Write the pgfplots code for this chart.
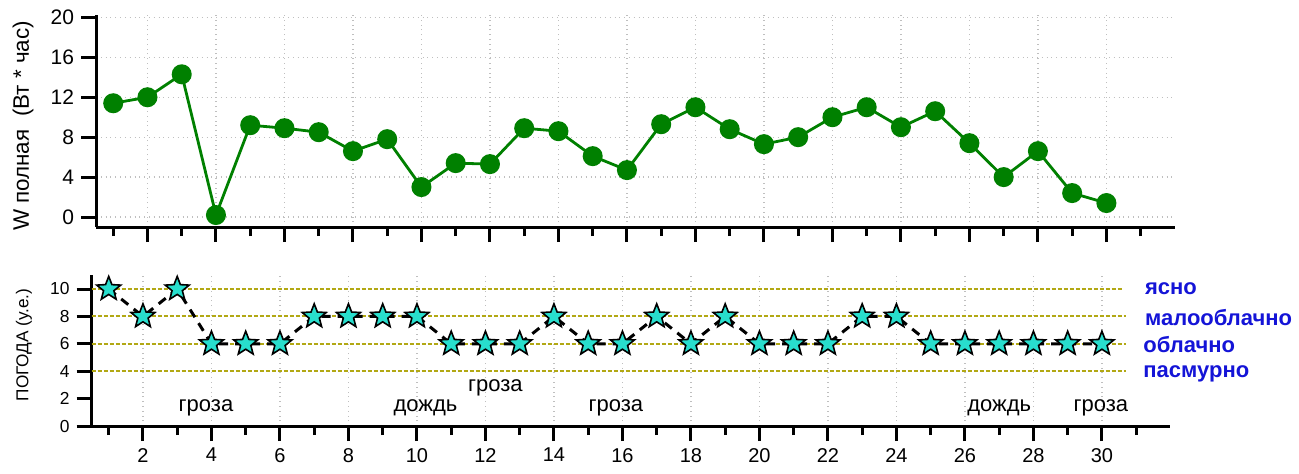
\documentclass[border=0pt]{standalone}
\usepackage{fontspec}
\setmainfont{Liberation Sans}
\usepackage{pgfplots}
\usepackage{pgfplotstable}
\pgfplotsset{compat=1.18}
\usetikzlibrary{plotmarks}

\definecolor{wgreen}{RGB}{0,128,0}
\definecolor{starfill}{RGB}{40,222,205}
\definecolor{olivegrid}{RGB}{178,168,20}
\definecolor{wxblue}{RGB}{20,20,215}

% filled five-pointed star marker
\pgfdeclareplotmark{fivestar}{%
  \pgfpathmoveto{\pgfpointpolar{90}{\pgfplotmarksize}}%
  \pgfpathlineto{\pgfpointpolar{126}{0.43\pgfplotmarksize}}%
  \pgfpathlineto{\pgfpointpolar{162}{\pgfplotmarksize}}%
  \pgfpathlineto{\pgfpointpolar{198}{0.43\pgfplotmarksize}}%
  \pgfpathlineto{\pgfpointpolar{234}{\pgfplotmarksize}}%
  \pgfpathlineto{\pgfpointpolar{270}{0.43\pgfplotmarksize}}%
  \pgfpathlineto{\pgfpointpolar{306}{\pgfplotmarksize}}%
  \pgfpathlineto{\pgfpointpolar{342}{0.43\pgfplotmarksize}}%
  \pgfpathlineto{\pgfpointpolar{18}{\pgfplotmarksize}}%
  \pgfpathlineto{\pgfpointpolar{54}{0.43\pgfplotmarksize}}%
  \pgfpathclose
  \pgfusepathqfillstroke
}

% daily total energy, W*h
\pgfplotstableread{
day W
1 11.4
2 12.0
3 14.3
4 0.2
5 9.2
6 8.9
7 8.5
8 6.6
9 7.8
10 3.0
11 5.4
12 5.3
13 8.9
14 8.6
15 6.1
16 4.7
17 9.3
18 11.0
19 8.8
20 7.3
21 8.0
22 10.0
23 11.0
24 9.0
25 10.6
26 7.4
27 4.0
28 6.6
29 2.4
30 1.4
}\energy

% weather score, conventional units
\pgfplotstableread{
day P
1 10
2 8
3 10
4 6
5 6
6 6
7 8
8 8
9 8
10 8
11 6
12 6
13 6
14 8
15 6
16 6
17 8
18 6
19 8
20 6
21 6
22 6
23 8
24 8
25 6
26 6
27 6
28 6
29 6
30 6
}\weather

\pgfplotsset{
  daysaxis/.style={
    scale only axis,
    width=539.4pt,
    xmin=0.5, xmax=32,
    axis lines*=left,
    axis line style={line width=1.5pt, -},
    tick align=outside,
    major tick length=7.5pt,
    minor tick length=4.5pt,
    every tick/.style={black, line width=1.5pt},
    xtick={2,4,...,30},
    minor xtick={1,3,...,31},
    xmajorgrids,
    major grid style={gray!50, dotted, line width=0.6pt},
    /pgf/number format/assume math mode=true,
    clip=false,
  }
}

\begin{document}
\begin{tikzpicture}
\useasboundingbox (0,0) rectangle (649.5pt,236.5pt);

% energy per day
\begin{axis}[
  daysaxis,
  at={(48.05pt,123pt)}, anchor=south west,
  height=105.8pt,
  ymin=-1, ymax=20.2,
  ytick={0,4,...,20},
  ymajorgrids,
  xticklabels={},
  yticklabel style={font=\fontsize{10.5}{12}\selectfont},
]
\addplot[wgreen, line width=1.4pt, mark=*, mark size=4.3pt,
  mark options={fill=wgreen, draw=wgreen}] table[x=day, y=W] {\energy};
\end{axis}

% weather
\begin{axis}[
  daysaxis,
  at={(45.8pt,23.5pt)}, anchor=south west,
  height=75.35pt,
  ymin=0, ymax=11,
  ytick={0,2,...,10},
  xticklabel style={font=\fontsize{10}{12}\selectfont},
  yticklabel style={font=\fontsize{8.7}{10}\selectfont},
]
\foreach \lev in {4,6,8} {
  \addplot[olivegrid, line width=1pt, dash pattern=on 2pt off 1pt, forget plot]
    coordinates {(0.5,\lev) (30.7,\lev)};
}
\addplot[olivegrid, line width=1pt, dash pattern=on 2pt off 1pt, forget plot]
  coordinates {(0.5,10) (30.6,10)};
\addplot[black, line width=1.5pt, dash pattern=on 4.5pt off 3.5pt] table[x=day, y=P] {\weather};
\addplot[only marks, mark=fivestar, mark size=6.3pt,
  mark options={fill=starfill, draw=black, line width=0.8pt, solid, line join=miter}] table[x=day, y=P] {\weather};

\begin{scope}[font=\fontsize{11}{13}\selectfont]
\node[anchor=base] at (axis cs:3.84,1.05) {гроза};
\node[anchor=base] at (axis cs:10.25,1.05) {дождь};
\node[anchor=base] at (axis cs:12.29,2.55) {гроза};
\node[anchor=base] at (axis cs:15.81,1.05) {гроза};
\node[anchor=base] at (axis cs:27.0,1.05) {дождь};
\node[anchor=base] at (axis cs:29.97,1.05) {гроза};
\end{scope}

\begin{scope}[font=\fontsize{11}{13}\selectfont\bfseries, text=wxblue]
\node[anchor=west, inner sep=0pt] at (axis cs:31.25,10) {ясно};
\node[anchor=west, inner sep=0pt] at (axis cs:31.25,7.95) {малооблачно};
\node[anchor=west, inner sep=0pt] at (axis cs:31.2,5.95) {облачно};
\node[anchor=west, inner sep=0pt] at (axis cs:31.2,3.8) {пасмурно};
\end{scope}
\end{axis}

% axis titles
\node[rotate=90, font=\fontsize{11.2}{13}\selectfont] at (11.5pt,173.5pt) {W полная~~(Вт * час)};
\node[rotate=90, font=\fontsize{8.6}{10}\selectfont] at (12pt,64pt) {ПОГОДА (у.е.)};
\end{tikzpicture}
\end{document}
